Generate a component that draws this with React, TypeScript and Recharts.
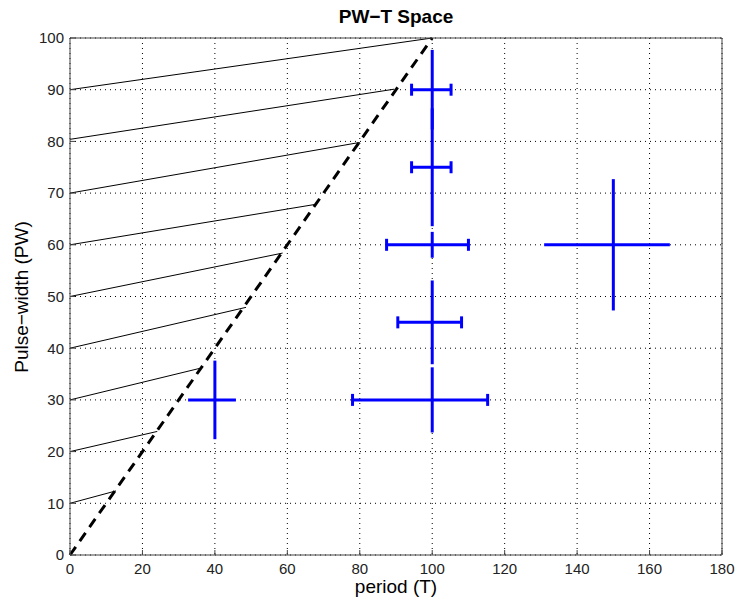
import React from "react";
import {
  ScatterChart,
  Scatter,
  XAxis,
  YAxis,
  CartesianGrid,
  ErrorBar,
  ReferenceLine,
} from "recharts";

// measured crosses: period (T) vs pulse-width (PW)
const periods = [40, 100, 100, 100, 100, 100, 150];
const pulseWidths = [30, 30, 45, 60, 75, 90, 60];
const periodErrLow = [7.4, 22, 9.5, 12.6, 5.7, 5.7, 19.1];
const periodErrHigh = [5.8, 15.3, 8.1, 10, 5.2, 5.2, 15.6];
const pwErr = [7.6, 6.3, 8.1, 2.5, 11.4, 7.7, 12.7];
const capped = [false, true, true, true, true, true, false];

// thin guide lines: start on the PW axis, end near the diagonal
const guideStartPW = [90, 80.4, 70, 60, 50, 40, 30, 20, 10];
const guideEndT = [100, 89.5, 80, 67.6, 58.7, 48.6, 36.4, 24.1, 12.7];
const guideEndPW = [100, 90.1, 79.8, 67.8, 58.4, 47.9, 36.2, 23.9, 12.4];

const xTicks = [0, 20, 40, 60, 80, 100, 120, 140, 160, 180];
const yTicks = [0, 10, 20, 30, 40, 50, 60, 70, 80, 90, 100];

const points = periods.map((t, i) => ({
  t,
  pw: pulseWidths[i],
  tErr: [periodErrLow[i], periodErrHigh[i]],
  pwErr: pwErr[i],
  capped: capped[i],
}));

const BLUE = "#0000ff";
const tickFont = { fontSize: 15, fill: "#222", fontFamily: "Liberation Sans, Arial, sans-serif" };
const labelFont: React.CSSProperties = {
  position: "absolute",
  fontFamily: "Liberation Sans, Arial, sans-serif",
  fontSize: 19,
  color: "#000",
  whiteSpace: "nowrap",
};

const noShape = () => <g />;

export default function App() {
  return (
    <div style={{ position: "absolute", left: 0, top: 0, width: 738, height: 603, background: "#fff" }}>
      <ScatterChart
        width={738}
        height={603}
        margin={{ top: 33, right: 11, bottom: 18, left: 10 }}
      >
        <CartesianGrid
          stroke="#000"
          strokeDasharray="1 4"
          verticalValues={xTicks}
          horizontalValues={yTicks}
        />
        <XAxis
          type="number"
          dataKey="t"
          domain={[0, 180]}
          ticks={xTicks}
          allowDataOverflow
          tick={tickFont}
          tickSize={-5}
          tickMargin={13}
          stroke="#444"
          height={30}
        />
        <XAxis
          xAxisId="top"
          orientation="top"
          type="number"
          domain={[0, 180]}
          ticks={xTicks}
          tickFormatter={() => ""}
          tickSize={-5}
          stroke="#444"
          height={5}
        />
        <YAxis
          type="number"
          dataKey="pw"
          domain={[0, 100]}
          ticks={yTicks}
          allowDataOverflow
          tick={tickFont}
          tickSize={-5}
          tickMargin={11}
          stroke="#444"
          width={60}
        />
        <YAxis
          yAxisId="right"
          orientation="right"
          type="number"
          domain={[0, 100]}
          ticks={yTicks}
          tickFormatter={() => ""}
          tickSize={-5}
          stroke="#444"
          width={5}
        />
        {guideStartPW.map((pw, i) => (
          <ReferenceLine
            key={"g" + i}
            segment={[
              { x: 0, y: pw },
              { x: guideEndT[i], y: guideEndPW[i] },
            ]}
            stroke="#000"
            strokeWidth={1}
          />
        ))}
        <ReferenceLine
          segment={[
            { x: 0, y: 0 },
            { x: 100, y: 100 },
          ]}
          stroke="#000"
          strokeWidth={3}
          strokeDasharray="10 7"
        />
        <Scatter
          data={points.filter((p) => p.capped)}
          shape={noShape}
          isAnimationActive={false}
        >
          <ErrorBar dataKey="tErr" direction="x" stroke={BLUE} strokeWidth={3} width={6} />
          <ErrorBar dataKey="pwErr" direction="y" stroke={BLUE} strokeWidth={3} width={0} />
        </Scatter>
        <Scatter
          data={points.filter((p) => !p.capped)}
          shape={noShape}
          isAnimationActive={false}
        >
          <ErrorBar dataKey="tErr" direction="x" stroke={BLUE} strokeWidth={3} width={0} />
          <ErrorBar dataKey="pwErr" direction="y" stroke={BLUE} strokeWidth={3} width={0} />
        </Scatter>
      </ScatterChart>
      <div
        style={{
          ...labelFont,
          fontWeight: "bold",
          left: 396,
          top: 6,
          transform: "translateX(-50%)",
        }}
      >
        PW−T Space
      </div>
      <div style={{ ...labelFont, left: 396, top: 576, transform: "translateX(-50%)" }}>
        period (T)
      </div>
      <div
        style={{
          ...labelFont,
          left: 22,
          top: 297,
          transform: "translate(-50%, -50%) rotate(-90deg)",
        }}
      >
        Pulse−width (PW)
      </div>
    </div>
  );
}
